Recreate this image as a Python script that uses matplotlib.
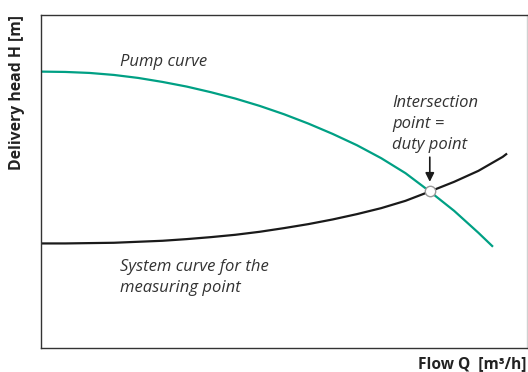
import matplotlib
matplotlib.use("Agg")
import matplotlib.pyplot as plt

# Pump characteristic: flow Q (% of axis) vs delivery head H (% of axis)
pump_q = [0, 5, 10, 15, 20, 25, 30, 35, 40, 45, 50, 55, 60, 65, 70, 75, 80, 85, 90, 93]
pump_h = [83.0, 82.9, 82.6, 82.0, 81.1, 79.9, 78.5, 76.8, 74.9, 72.7,
          70.2, 67.4, 64.3, 60.9, 57.0, 52.5, 47.0, 41.2, 34.6, 30.4]

# System characteristic for the measuring point
sys_q = [0, 5, 10, 15, 20, 25, 30, 35, 40, 45, 50, 55, 60, 65, 70, 75, 80, 85, 90, 95, 95.9]
sys_h = [31.4, 31.4, 31.5, 31.6, 31.9, 32.2, 32.7, 33.3, 34.0, 34.9, 36.0,
         37.2, 38.6, 40.2, 42.0, 44.2, 47.0, 49.9, 53.2, 57.4, 58.4]

# Duty point where both curves meet
duty_q, duty_h = 80, 47.0

GREEN = '#00a084'
DARK = '#1a1a1a'
FONT = 'Open Sans'

fig = plt.figure(figsize=(5.28, 3.72), dpi=100)
ax = fig.add_axes([41 / 528, 24 / 372, 486 / 528, 333 / 372])

ax.plot(pump_q, pump_h, color=GREEN, lw=1.6, solid_capstyle='butt', solid_joinstyle='round')
ax.plot(sys_q, sys_h, color=DARK, lw=1.6, solid_capstyle='butt', solid_joinstyle='round')
ax.plot([duty_q], [duty_h], 'o', ms=7.5, mfc='white', mec='#999999', mew=1.0, zorder=5)

# arrow pointing down onto the duty point
ax.annotate('', xy=(duty_q, duty_h + 2.9), xytext=(duty_q, duty_h + 10.3),
            arrowprops=dict(arrowstyle='-|>', color=DARK, lw=1.2,
                            mutation_scale=13, shrinkA=0, shrinkB=0))

txt = dict(family=FONT, style='italic', fontsize=12, color='#333333',
           linespacing=1.42)
ax.text(16.3, 85.9, 'Pump curve', ha='left', va='center', **txt)
ax.text(72.2, 67.3, 'Intersection\npoint =\nduty point', ha='left', va='center', **txt)
ax.text(16.3, 21.3, 'System curve for the\nmeasuring point', ha='left', va='center', **txt)

ax.set_xlim(0, 100)
ax.set_ylim(0, 100)
ax.set_xticks([])
ax.set_yticks([])
for side in ('left', 'top', 'bottom'):
    ax.spines[side].set_color('#333333')
    ax.spines[side].set_linewidth(1.0)
ax.spines['right'].set_color('#d0d0d0')
ax.spines['right'].set_linewidth(1.0)

fig.text(17 / 528, 1 - 92 / 372, 'Delivery head H [m]', rotation=90,
         ha='center', va='center', family=FONT, fontweight='bold',
         fontsize=11.3, color='#222222')
fig.text(527 / 528, 1 - 364 / 372, 'Flow Q  [m³/h]', ha='right', va='center',
         family=FONT, fontweight='bold', fontsize=11.2, color='#222222')

fig.savefig('out.png', dpi=100)
